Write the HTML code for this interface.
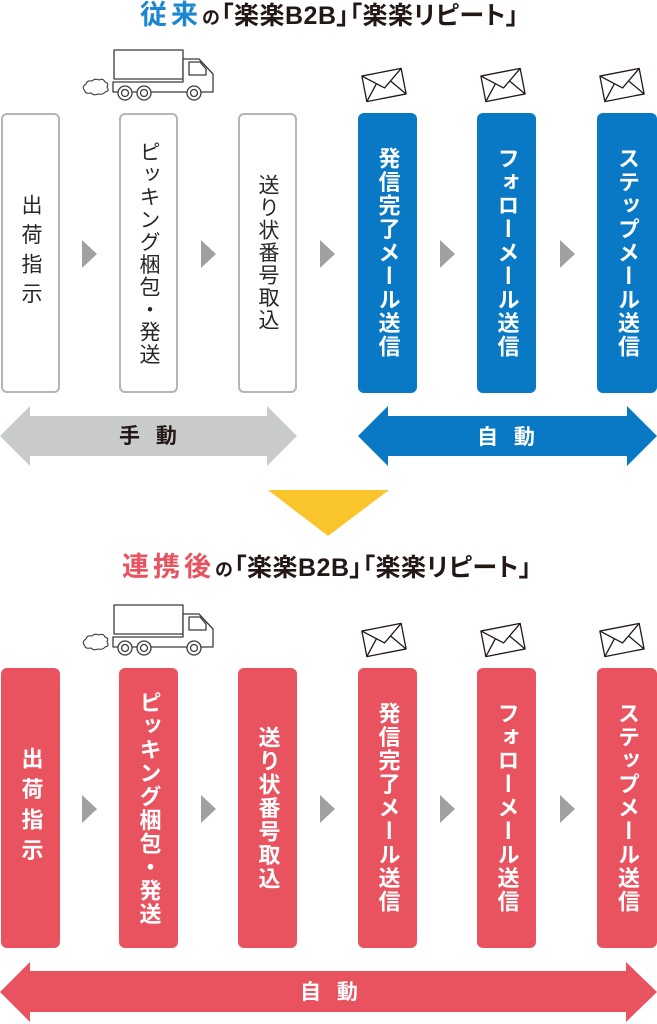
<!DOCTYPE html>
<html><head><meta charset="utf-8">
<style>
html,body{margin:0;padding:0;background:#fff;}
body{width:657px;height:1024px;position:relative;overflow:hidden;font-family:"Liberation Sans","Noto Sans CJK JP",sans-serif;}
.abs{position:absolute;}
.h{position:absolute;white-space:nowrap;line-height:1;font-weight:bold;color:#231815;font-family:"Liberation Sans","Noto Sans CJK JP",sans-serif;}
.big{font-size:27px;letter-spacing:4px;}
.no{font-size:18px;letter-spacing:1px;}
.rest{font-size:25px;letter-spacing:0.5px;font-feature-settings:"palt";}
.box{position:absolute;width:59px;height:280px;border-radius:6px;box-sizing:border-box;display:flex;align-items:center;justify-content:center;}
.g{border:2px solid #b5b5b6;background:#fff;color:#2a2625;font-weight:normal;}
.b{background:#0a79c5;color:#fff;font-weight:bold;}
.r{background:#e9535f;color:#fff;font-weight:bold;}
.vt{writing-mode:vertical-rl;font-size:21px;line-height:1;letter-spacing:1.5px;font-family:"Liberation Sans","Noto Sans CJK JP",sans-serif;white-space:nowrap;}
.b .vt,.r .vt{font-size:22px;letter-spacing:1.5px;}
.lbl{position:absolute;font-size:21px;line-height:1;font-weight:bold;letter-spacing:5px;white-space:nowrap;font-family:"Liberation Sans","Noto Sans CJK JP",sans-serif;}
</style></head><body>

<svg class="abs" style="left:0;top:0" width="657" height="1024" viewBox="0 0 657 1024">
  <g fill="#a0a0a0">
    <polygon points="82,240 97,254 82,268"/>
    <polygon points="201,240 216,254 201,268"/>
    <polygon points="320,240 335,254 320,268"/>
    <polygon points="440,240 455,254 440,268"/>
    <polygon points="560,240 575,254 560,268"/>
    <polygon points="82,795 97,809 82,823"/>
    <polygon points="201,795 216,809 201,823"/>
    <polygon points="320,795 335,809 320,823"/>
    <polygon points="440,795 455,809 440,823"/>
    <polygon points="560,795 575,809 560,823"/>
  </g>
  <polygon fill="#c9caca" points="0,436 30,406 30,416 267,416 267,406 297,436 267,466 267,456 30,456 30,466"/>
  <polygon fill="#0a79c5" points="358,436 388,406 388,416 627,416 627,406 657,436 627,466 627,456 388,456 388,466"/>
  <polygon fill="#e9535f" points="0,992 30,962 30,971 626,971 626,962 657,992 626,1022 626,1012 30,1012 30,1022"/>
  <polygon fill="#fac52c" points="268,490 389,490 328,536"/>

  <g fill="none" stroke="#3e3a39" stroke-width="1.3" stroke-linejoin="round">
    <rect x="114" y="50" width="69" height="29" fill="#fff"/>
    <path d="M183 82 V59 H199 L213 74 V92 H113 V82 Z" fill="#fff"/>
    <path d="M189 62 H200 L206 69 V75 H189 Z"/>
    <circle cx="125" cy="93" r="7" fill="#fff"/><circle cx="125" cy="93" r="3.5"/>
    <circle cx="144" cy="93" r="7" fill="#fff"/><circle cx="144" cy="93" r="3.5"/>
    <circle cx="194" cy="93" r="7" fill="#fff"/><circle cx="194" cy="93" r="3.5"/>
    <path d="M85 91 q-4 -4 1 -7 q1 -4 6 -3 q3 -3 7 -1 q4 -2 6 2 q4 1 2 5 q3 4 -2 5 q-2 3 -7 2 q-4 2 -7 -1 q-6 1 -6 -2 Z" stroke-width="1.1"/>
  </g>
  <g fill="none" stroke="#3e3a39" stroke-width="1.3" stroke-linejoin="round" transform="translate(0,555)">
    <rect x="114" y="50" width="69" height="29" fill="#fff"/>
    <path d="M183 82 V59 H199 L213 74 V92 H113 V82 Z" fill="#fff"/>
    <path d="M189 62 H200 L206 69 V75 H189 Z"/>
    <circle cx="125" cy="93" r="7" fill="#fff"/><circle cx="125" cy="93" r="3.5"/>
    <circle cx="144" cy="93" r="7" fill="#fff"/><circle cx="144" cy="93" r="3.5"/>
    <circle cx="194" cy="93" r="7" fill="#fff"/><circle cx="194" cy="93" r="3.5"/>
    <path d="M85 91 q-4 -4 1 -7 q1 -4 6 -3 q3 -3 7 -1 q4 -2 6 2 q4 1 2 5 q3 4 -2 5 q-2 3 -7 2 q-4 2 -7 -1 q-6 1 -6 -2 Z" stroke-width="1.1"/>
  </g>

  <g fill="#fff" stroke="#231815" stroke-width="1.3" stroke-linejoin="round">
    <g transform="translate(384,85) rotate(-11)">
      <rect x="-20" y="-13" width="40" height="26"/>
      <polyline points="-20,-13 0,3 20,-13" fill="none"/>
      <line x1="-20" y1="13" x2="-7" y2="-3"/><line x1="20" y1="13" x2="7" y2="-3"/>
    </g>
    <g transform="translate(503,85) rotate(-11)">
      <rect x="-20" y="-13" width="40" height="26"/>
      <polyline points="-20,-13 0,3 20,-13" fill="none"/>
      <line x1="-20" y1="13" x2="-7" y2="-3"/><line x1="20" y1="13" x2="7" y2="-3"/>
    </g>
    <g transform="translate(622,85) rotate(-11)">
      <rect x="-20" y="-13" width="40" height="26"/>
      <polyline points="-20,-13 0,3 20,-13" fill="none"/>
      <line x1="-20" y1="13" x2="-7" y2="-3"/><line x1="20" y1="13" x2="7" y2="-3"/>
    </g>
    <g transform="translate(384,640) rotate(-11)">
      <rect x="-20" y="-13" width="40" height="26"/>
      <polyline points="-20,-13 0,3 20,-13" fill="none"/>
      <line x1="-20" y1="13" x2="-7" y2="-3"/><line x1="20" y1="13" x2="7" y2="-3"/>
    </g>
    <g transform="translate(503,640) rotate(-11)">
      <rect x="-20" y="-13" width="40" height="26"/>
      <polyline points="-20,-13 0,3 20,-13" fill="none"/>
      <line x1="-20" y1="13" x2="-7" y2="-3"/><line x1="20" y1="13" x2="7" y2="-3"/>
    </g>
    <g transform="translate(622,640) rotate(-11)">
      <rect x="-20" y="-13" width="40" height="26"/>
      <polyline points="-20,-13 0,3 20,-13" fill="none"/>
      <line x1="-20" y1="13" x2="-7" y2="-3"/><line x1="20" y1="13" x2="7" y2="-3"/>
    </g>
  </g>
</svg>

<div class="h" style="left:140px;top:2px;"><span class="big" style="color:#1c87d0">従来</span><span class="no">の</span><span class="rest">「楽楽B2B」「楽楽リピート」</span></div>
<div class="h" style="left:122px;top:554px;"><span class="big" style="color:#e9535f">連携後</span><span class="no">の</span><span class="rest">「楽楽B2B」「楽楽リピート」</span></div>

<div class="box g" style="left:1px;top:113px;"><span class="vt" style="letter-spacing:8.5px">出荷指示</span></div>
<div class="box g" style="left:119px;top:113px;"><span class="vt">ピッキング梱包・発送</span></div>
<div class="box g" style="left:238px;top:113px;"><span class="vt">送り状番号取込</span></div>
<div class="box b" style="left:358px;top:113px;"><span class="vt">発信完了メール送信</span></div>
<div class="box b" style="left:477px;top:113px;"><span class="vt">フォローメール送信</span></div>
<div class="box b" style="left:597px;top:113px;width:60px;"><span class="vt">ステップメール送信</span></div>

<div class="box r" style="left:1px;top:668px;"><span class="vt" style="letter-spacing:8.5px">出荷指示</span></div>
<div class="box r" style="left:119px;top:668px;"><span class="vt">ピッキング梱包・発送</span></div>
<div class="box r" style="left:238px;top:668px;"><span class="vt">送り状番号取込</span></div>
<div class="box r" style="left:358px;top:668px;"><span class="vt">発信完了メール送信</span></div>
<div class="box r" style="left:477px;top:668px;"><span class="vt">フォローメール送信</span></div>
<div class="box r" style="left:597px;top:668px;width:60px;"><span class="vt">ステップメール送信</span></div>

<div class="lbl" style="left:119px;top:426px;color:#231815;">手 動</div>
<div class="lbl" style="left:477px;top:427px;color:#fff;">自 動</div>
<div class="lbl" style="left:300px;top:982px;color:#fff;">自 動</div>

</body></html>
